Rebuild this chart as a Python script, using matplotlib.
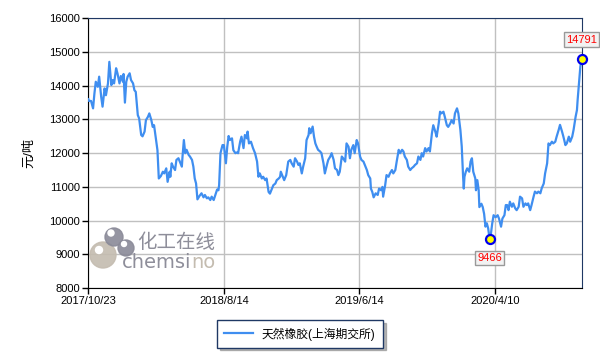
import matplotlib
matplotlib.use('Agg')
import matplotlib.pyplot as plt
import matplotlib.transforms as mtransforms
from matplotlib.patches import Circle

plt.rcParams['font.family'] = ['Liberation Sans', 'Noto Sans CJK SC', 'DejaVu Sans']

# trading-day index and settlement price (元/吨)
days = [0, 1, 4, 7, 9, 11, 14, 16, 19, 21, 24, 26, 29, 31, 34, 36, 38, 41, 43, 46, 48, 51, 52, 54, 56, 58,
        61, 63, 66, 68, 70, 73, 75, 78, 80, 83, 85, 88, 90, 93, 95, 97, 100, 102, 104, 107, 110, 112,
        115, 117, 120, 121, 123, 125, 128, 130, 133, 135, 138, 139, 141, 143, 145, 148, 150, 153, 155,
        157, 159, 161, 164, 167, 170, 172, 175, 177, 180, 182, 185, 187, 190, 192, 193, 195, 198, 200,
        203, 205, 207, 209, 212, 214, 217, 219, 221, 224, 226, 229, 231, 234, 235, 237, 240, 243, 246,
        249, 251, 253, 256, 258, 261, 263, 266, 268, 271, 273, 276, 278, 281, 283, 284, 286, 289, 292,
        295, 298, 300, 303, 305, 308, 310, 312, 315, 317, 320, 322, 325, 326, 328, 331, 333, 335, 337,
        339, 342, 344, 347, 349, 352, 354, 357, 359, 362, 364, 367, 369, 371, 374, 376, 379, 381, 384,
        386, 388, 391, 393, 396, 398, 401, 403, 406, 408, 411, 413, 416, 417, 419, 421, 424, 427, 429,
        432, 434, 435, 438, 440, 443, 445, 448, 450, 453, 455, 458, 460, 463, 465, 467, 470, 472, 475,
        477, 480, 482, 485, 487, 490, 492, 494, 497, 499, 502, 504, 507, 509, 512, 514, 517, 519, 521,
        524, 526, 529, 531, 534, 536, 539, 541, 544, 546, 549, 551, 553, 554, 555, 557, 559, 562, 564,
        566, 568, 571, 572, 574, 576, 577, 580, 582, 584, 586, 588, 590, 592, 594, 596, 598, 601, 604,
        606, 609, 611, 614, 616, 618, 620, 622, 625, 627, 630, 632, 635, 637, 640, 642, 645, 647, 649,
        652, 654, 657, 659, 662, 664, 667, 669, 672, 674, 677, 679, 681, 684, 686, 689, 691, 694, 696,
        699, 701, 704, 706, 709, 711, 714, 716, 719, 721, 722, 724, 726, 728]
price = [13600, 13550, 13550, 13330, 13770, 14120, 13970, 14270, 13670, 13380, 13920, 13720, 14070, 14710,
         14020, 14170, 14070, 14520, 14370, 14070, 14290, 14120, 14350, 13500, 14120, 14270, 14370, 14170,
         14070, 13870, 13820, 13130, 13030, 12540, 12500, 12640, 12980, 13080, 13180, 12980, 12780, 12830,
         12390, 12090, 11250, 11320, 11450, 11400, 11550, 11150, 11450, 11300, 11700, 11600, 11500, 11800,
         11850, 11750, 11600, 11900, 12390, 12000, 12100, 11950, 11900, 11800, 11600, 11250, 11100, 10630,
         10730, 10810, 10690, 10760, 10660, 10690, 10610, 10710, 10610, 10730, 10920, 10900, 11050, 12000,
         12240, 12240, 11700, 12190, 12510, 12390, 12440, 12090, 12000, 12020, 12000, 12340, 12490, 12150,
         12540, 12440, 12640, 12290, 12340, 12150, 12000, 11750, 11300, 11400, 11250, 11300, 11200, 11250,
         10850, 10800, 10950, 11050, 11100, 11200, 11250, 11300, 11450, 11350, 11200, 11350, 11750, 11800,
         11700, 11600, 11850, 11750, 11650, 11700, 11400, 11600, 11850, 12390, 12540, 12740, 12590, 12790,
         12490, 12290, 12190, 12100, 12050, 12000, 11700, 11400, 11650, 11800, 11900, 12000, 11800, 11550,
         11500, 11350, 11450, 11900, 11850, 11750, 12290, 12190, 11850, 12100, 12240, 12000, 12390, 12290,
         11900, 11800, 11750, 11650, 11500, 11350, 11250, 10950, 10850, 10690, 10810, 10760, 10950, 10900,
         11000, 10710, 11050, 11350, 11300, 11400, 11500, 11400, 11500, 11750, 12100, 12000, 12100, 12050,
         11900, 11800, 11600, 11500, 11550, 11600, 11650, 11700, 11900, 11800, 12000, 11900, 12150, 12050,
         12150, 12050, 12590, 12830, 12640, 12490, 12880, 13230, 13180, 13230, 13080, 12830, 12780, 12880,
         12980, 12880, 13180, 13330, 13180, 12690, 12200, 11300, 10950, 11300, 11450, 11550, 11450, 11750,
         11850, 11450, 11250, 10900, 11200, 10900, 10400, 10500, 10400, 10200, 9820, 9920, 9770, 9466,
         9600, 9920, 10160, 10100, 10160, 10060, 9820, 10060, 10160, 10460, 10460, 10310, 10560, 10410,
         10510, 10360, 10310, 10410, 10710, 10660, 10410, 10510, 10460, 10510, 10310, 10460, 10710, 10860,
         10810, 10860, 10810, 10960, 11100, 11400, 11700, 12290, 12240, 12340, 12290, 12340, 12490, 12690,
         12840, 12640, 12490, 12240, 12290, 12490, 12340, 12490, 12690, 13080, 13280, 13580, 14070, 14570,
         14791]

tick_days = [0, 200, 400, 600]
tick_labels = ['2017/10/23', '2018/8/14', '2019/6/14', '2020/4/10']
y_ticks = [8000, 9000, 10000, 11000, 12000, 13000, 14000, 15000, 16000]
series_name = '天然橡胶(上海期交所)'

fig = plt.figure(figsize=(6, 3.6), dpi=100)
ax = fig.add_axes([0.1472, 0.2, 0.8223, 0.749])

line_col = '#3f8ef0'
ax.plot(days, price, color=line_col, lw=1.6, label=series_name, zorder=3)

ax.set_xlim(0, 728)
ax.set_ylim(8000, 16000)
ax.set_xticks(tick_days)
ax.set_xticklabels(tick_labels)
ax.set_yticks(y_ticks)
ax.grid(True, color='#c0c0c0', lw=1)
ax.set_axisbelow(True)
ax.tick_params(axis='both', labelsize=8, length=4, width=1, color='black', pad=2)
ax.set_ylabel('元/吨', fontsize=9.5, labelpad=10)

for s in ['left', 'bottom']:
    ax.spines[s].set_color('black')
for s in ['top', 'right']:
    ax.spines[s].set_color('#1f3864')

# min and last points
i_min = price.index(min(price))
for i, dy in [(i_min, -14), (len(price) - 1, 14)]:
    ax.plot(days[i], price[i], 'o', ms=6.5, mfc='#ffff00', mec='#0000ee', mew=1.6, zorder=5, clip_on=False)
    ax.annotate(str(price[i]), (days[i], price[i]), xytext=(0, dy), textcoords='offset points',
                ha='center', va='center', color='red', fontsize=8, annotation_clip=False,
                bbox=dict(boxstyle='square,pad=0.2', fc='#f2f2f2', ec='#999999', lw=1), zorder=6)

# watermark logo
idt = mtransforms.IdentityTransform()
H = 360
fig.add_artist(Circle((103, H - 255), 13, color='#c4bcb0', transform=idt, alpha=0.9))
fig.add_artist(Circle((99, H - 250), 3.5, color='white', transform=idt))
fig.add_artist(Circle((114, H - 237), 9, color='#8a8a98', transform=idt, alpha=0.9))
fig.add_artist(Circle((111, H - 233), 3, color='white', transform=idt))
fig.add_artist(Circle((126, H - 248), 8, color='#8a8a98', transform=idt, alpha=0.9))
fig.add_artist(Circle((124, H - 244), 2.5, color='white', transform=idt))
fig.text(137 / 600, 1 - 243 / 360, '化工在线', fontsize=14, color='#8e8e9a', va='center', ha='left',
         family=['Noto Sans CJK SC'])
t1 = fig.text(122 / 600, 1 - 263 / 360, 'chemsi', fontsize=14, color='#8e8e9a', va='center', ha='left',
              family=['DejaVu Sans'])
fig.canvas.draw()
bb = t1.get_window_extent()
fig.text(bb.x1 / 600, 1 - 263 / 360, 'no', fontsize=14, color='#c4bcb0', va='center', ha='left',
         family=['DejaVu Sans'])

leg = fig.legend(loc='center', bbox_to_anchor=(0.5, 1 - 334 / 360), fontsize=8.5, fancybox=False,
                 shadow={'color': '#888888', 'alpha': 0.6}, edgecolor='#1f3864', framealpha=1,
                 handlelength=2.4, borderpad=0.6)
leg.get_frame().set_linewidth(1)

fig.savefig('out.png', dpi=100)
